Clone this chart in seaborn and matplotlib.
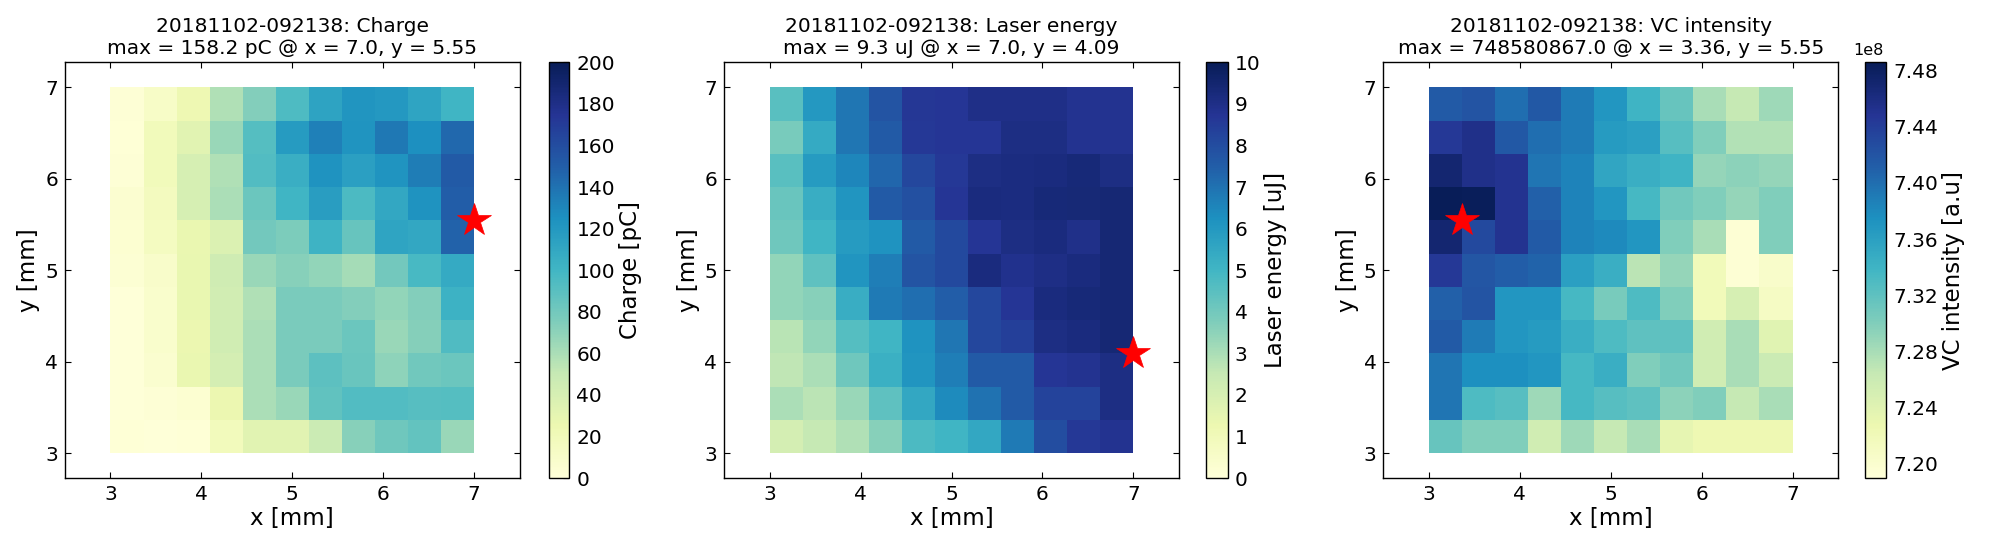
import numpy as np
import matplotlib
matplotlib.use("Agg")
import matplotlib.pyplot as plt
from matplotlib.transforms import Affine2D
from matplotlib.ticker import FuncFormatter
import seaborn as sns

# Rows are listed top (y = 7) to bottom (y = 3); columns left (x = 3) to right (x = 7)
charge = [
    [3, 11, 24, 58, 74, 95, 113, 122, 120, 112, 100],
    [2, 19, 33, 66, 92, 118, 133, 123, 137, 125, 145],
    [3, 19, 40, 58, 93, 105, 124, 115, 123, 135, 152],
    [6, 17, 40, 60, 83, 100, 117, 96, 110, 124, 150],
    [5, 15, 27, 37, 80, 76, 102, 85, 112, 110, 148],
    [4, 10, 28, 45, 66, 72, 68, 62, 80, 97, 108],
    [1, 8, 28, 43, 58, 77, 77, 74, 68, 74, 103],
    [1, 8, 26, 44, 60, 77, 77, 83, 66, 73, 94],
    [1, 7, 27, 42, 60, 77, 89, 84, 70, 81, 83],
    [1, 3, 5, 26, 60, 66, 87, 93, 93, 91, 92],
    [2, 1, 2, 18, 33, 33, 47, 72, 82, 86, 66],
]
laser = [
    [4.5, 6.0, 6.9, 7.8, 8.65, 8.7, 9.0, 9.0, 9.0, 8.8, 8.8],
    [3.9, 5.4, 6.9, 7.6, 8.6, 8.7, 8.7, 9.1, 9.1, 8.8, 8.8],
    [4.5, 5.9, 6.5, 7.3, 8.2, 8.6, 9.1, 9.15, 9.2, 9.3, 9.1],
    [4.2, 5.3, 6.1, 7.6, 7.9, 8.7, 9.2, 9.15, 9.3, 9.35, 9.4],
    [4.1, 5.0, 5.9, 6.2, 7.6, 8.1, 8.7, 9.1, 9.2, 8.95, 9.4],
    [3.4, 4.4, 6.1, 6.7, 7.8, 8.1, 9.2, 8.9, 9.05, 9.2, 9.4],
    [3.4, 3.6, 5.3, 6.8, 7.1, 7.5, 8.2, 8.7, 9.2, 9.3, 9.4],
    [2.75, 3.4, 4.6, 5.0, 6.2, 6.9, 8.2, 8.4, 9.1, 9.2, 9.4],
    [2.65, 3.0, 4.1, 5.2, 6.1, 6.7, 7.6, 7.6, 8.7, 8.8, 9.1],
    [3.0, 2.7, 3.3, 4.4, 5.5, 6.4, 7.0, 7.6, 8.3, 8.3, 9.1],
    [2.1, 2.5, 2.9, 3.6, 4.8, 5.0, 5.5, 6.8, 8.0, 8.6, 8.8],
]
vc_e8 = [
    [7.415, 7.42, 7.40, 7.417, 7.39, 7.37, 7.34, 7.315, 7.28, 7.265, 7.285],
    [7.445, 7.455, 7.417, 7.40, 7.39, 7.365, 7.36, 7.325, 7.30, 7.275, 7.275],
    [7.47, 7.455, 7.45, 7.395, 7.385, 7.355, 7.345, 7.34, 7.29, 7.295, 7.29],
    [7.4858, 7.484, 7.45, 7.41, 7.385, 7.37, 7.335, 7.31, 7.30, 7.29, 7.30],
    [7.47, 7.43, 7.45, 7.415, 7.385, 7.38, 7.37, 7.30, 7.28, 7.195, 7.30],
    [7.445, 7.418, 7.412, 7.408, 7.36, 7.345, 7.27, 7.29, 7.22, 7.195, 7.205],
    [7.41, 7.42, 7.37, 7.37, 7.335, 7.305, 7.33, 7.30, 7.22, 7.25, 7.21],
    [7.415, 7.39, 7.37, 7.365, 7.345, 7.33, 7.32, 7.32, 7.255, 7.28, 7.24],
    [7.395, 7.375, 7.375, 7.37, 7.335, 7.345, 7.30, 7.31, 7.255, 7.28, 7.26],
    [7.395, 7.33, 7.325, 7.285, 7.335, 7.325, 7.32, 7.295, 7.30, 7.265, 7.28],
    [7.315, 7.30, 7.30, 7.255, 7.285, 7.265, 7.28, 7.235, 7.225, 7.225, 7.225],
]

titles = ["20181102-092138: Charge\nmax = 158.2 pC @ x = 7.0, y = 5.55",
          "20181102-092138: Laser energy\nmax = 9.3 uJ @ x = 7.0, y = 4.09",
          "20181102-092138: VC intensity\nmax = 748580867.0 @ x = 3.36, y = 5.55"]
cbar_labels = ["Charge [pC]", "Laser energy [uJ]", "VC intensity [a.u]"]
star_x = [7.0, 7.0, 3.36]
star_y = [5.55, 4.09, 5.55]
vmins = [0, 0, 7.19e8]
vmaxs = [200, 10, 7.4858e8]
cbar_ticks = [list(range(0, 201, 20)), list(range(0, 11)),
              [7.20e8, 7.24e8, 7.28e8, 7.32e8, 7.36e8, 7.40e8, 7.44e8, 7.48e8]]
x_ticks = [3, 4, 5, 6, 7]
y_ticks = [3, 4, 5, 6, 7]

sns.set_style("white")
plt.rcParams.update({"font.family": ["DejaVu Sans"], "axes.edgecolor": "black",
                     "axes.linewidth": 1.0, "text.color": "black",
                     "axes.labelcolor": "black", "xtick.color": "black",
                     "ytick.color": "black"})

W, H = 2000, 550
fig = plt.figure(figsize=(W / 100, H / 100), dpi=100)
ax_px = [(65, 519.5), (724.2, 1178.8), (1383.4, 1838)]
cb_px = [(548.6, 569.4), (1206, 1227.6), (1865, 1886)]
top, bottom = 62.4, 478

series = [np.array(charge, float), np.array(laser, float), np.array(vc_e8, float) * 1e8]
for i, values in enumerate(series):
    l, r = ax_px[i]
    ax = fig.add_axes([l / W, 1 - bottom / H, (r - l) / W, (bottom - top) / H])
    cl, cr = cb_px[i]
    cax = fig.add_axes([cl / W, 1 - bottom / H, (cr - cl) / W, (bottom - top) / H])
    sns.heatmap(values[::-1], ax=ax, cbar_ax=cax, cmap="YlGnBu",
                vmin=vmins[i], vmax=vmaxs[i], xticklabels=False, yticklabels=False)
    mesh = ax.collections[0]
    n = values.shape[0]
    mesh.set_transform(Affine2D().scale((7 - 3) / n).translate(3, 3) + ax.transData)
    ax.set_xlim(2.5, 7.5)
    ax.set_ylim(2.727, 7.273)
    ax.set_xticks(x_ticks, [str(t) for t in x_ticks])
    ax.set_yticks(y_ticks, [str(t) for t in y_ticks])
    ax.tick_params(axis="both", direction="in", length=4, width=0.8, labelsize=14.5,
                   top=True, right=True, bottom=True, left=True, pad=5)
    for s in ax.spines.values():
        s.set_visible(True)
        s.set_linewidth(1.0)
        s.set_edgecolor("black")
    ax.set_xlabel("x [mm]", fontsize=16.5, labelpad=2.5)
    ax.set_ylabel("y [mm]", fontsize=16.5, labelpad=3.5)
    ax.set_title(titles[i], fontsize=14.5, pad=6, linespacing=1.2)
    ax.plot(star_x[i], star_y[i], marker="*", color="red", markersize=25, mew=0.5,
            linestyle="none", clip_on=False)

    cbar = mesh.colorbar
    cbar.outline.set_visible(True)
    cbar.outline.set_linewidth(1.0)
    cbar.outline.set_edgecolor("black")
    cbar.set_ticks(cbar_ticks[i])
    if i == 2:
        cbar.ax.yaxis.set_major_formatter(FuncFormatter(lambda v, p: f"{v / 1e8:.2f}"))
        cax.text(0.905, 1.010, "1e8", transform=cax.transAxes, fontsize=11.5,
                 ha="right", va="bottom")
    cax.tick_params(axis="y", direction="in", length=4, width=0.8, labelsize=14.5,
                    right=True, left=False, pad=5)
    cbar.set_label(cbar_labels[i], fontsize=16.5, labelpad=3)

fig.savefig("out.png", dpi=100)
